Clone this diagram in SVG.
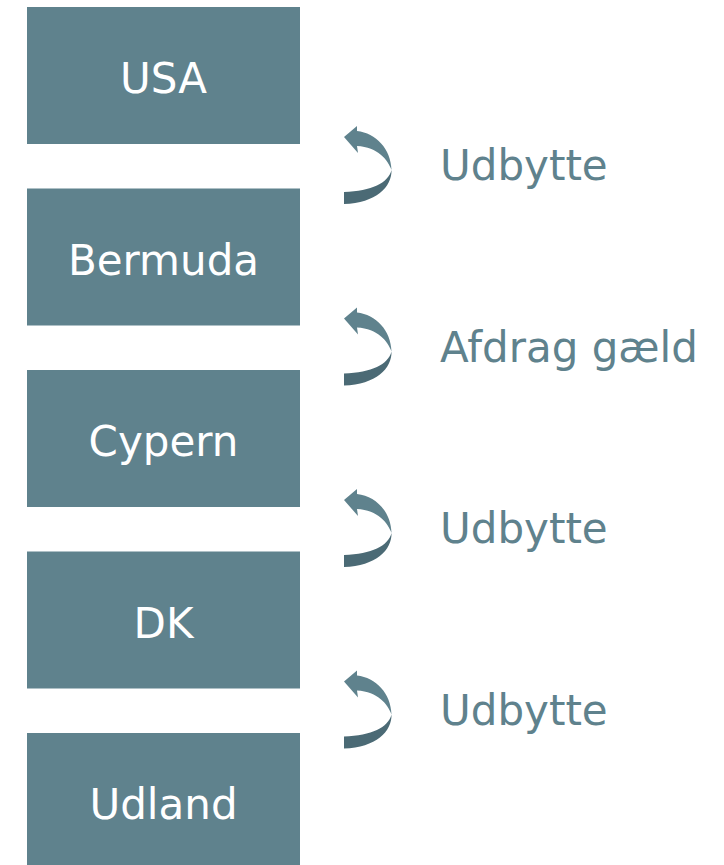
<svg xmlns="http://www.w3.org/2000/svg" width="724" height="865" viewBox="0 0 724 865">
<style>
.box{fill:#5F828D;}
.bt{fill:#FFFFFF;font-family:"DejaVu Sans",Verdana,sans-serif;font-size:42px;text-anchor:middle;}
.lbl{fill:#5F828D;font-family:"DejaVu Sans",Verdana,sans-serif;font-size:42px;}
.up{fill:#5F828D;}
.down{fill:#4B6A75;}
</style>
<defs>
<g id="curl">
<path class="up" d="M344,137 L357,126 L357,131 C376,133 391,149 391.5,170 C388,160 378,147 357,146 L358,153 Z"/>
<path class="down" d="M391.5,170 C392,187 376,203 344,204 L344,192 C372,191 388,183 391.5,170 Z"/>
</g>
</defs>
<rect width="724" height="865" fill="#FFFFFF"/>
<g id="usa"><rect class="box" x="27" y="7" width="273" height="137"/><text class="bt" x="163.5" y="93">USA</text></g>
<g id="bermuda"><rect class="box" x="27" y="188.5" width="273" height="137"/><text class="bt" x="163.5" y="274.5">Bermuda</text></g>
<g id="cypern"><rect class="box" x="27" y="370" width="273" height="137"/><text class="bt" x="163.5" y="456">Cypern</text></g>
<g id="dk"><rect class="box" x="27" y="551.5" width="273" height="137"/><text class="bt" x="163.5" y="637.5">DK</text></g>
<g id="udland"><rect class="box" x="27" y="733" width="273" height="137"/><text class="bt" x="163.5" y="819">Udland</text></g>
<g id="connectors">
<g id="c1"><use href="#curl"/><text class="lbl" x="440" y="180">Udbytte</text></g>
<g id="c2"><use href="#curl" transform="translate(0,181.5)"/><text class="lbl" x="440" y="361.5">Afdrag gæld</text></g>
<g id="c3"><use href="#curl" transform="translate(0,363)"/><text class="lbl" x="440" y="543">Udbytte</text></g>
<g id="c4"><use href="#curl" transform="translate(0,544.5)"/><text class="lbl" x="440" y="724.5">Udbytte</text></g>
</g>
</svg>
